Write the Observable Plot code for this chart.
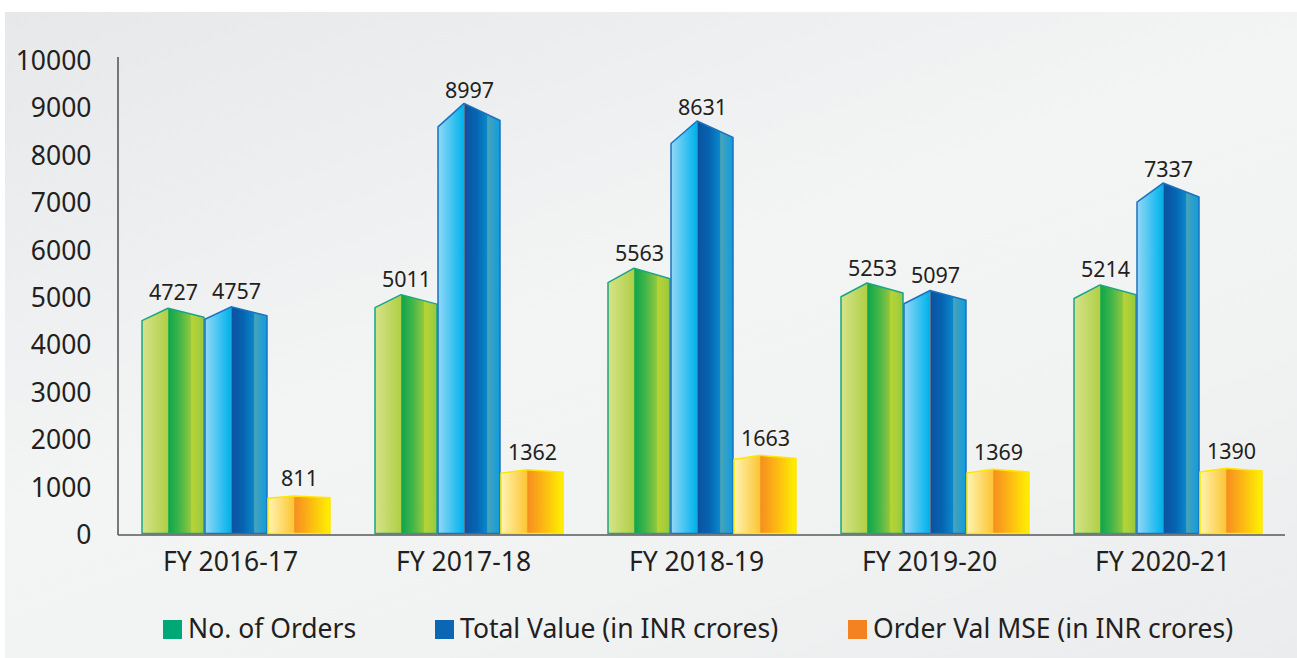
<!DOCTYPE html>
<html>
<head>
<meta charset="utf-8">
<script src="https://cdn.jsdelivr.net/npm/d3@7"></script>
<script src="https://cdn.jsdelivr.net/npm/@observablehq/plot@0.6"></script>
<style>
  html, body { margin: 0; padding: 0; background: #ffffff; }
  #page { position: relative; width: 1297px; height: 658px; overflow: hidden; font-family: "Noto Sans", sans-serif; color: #231f20; }
  #panel { position: absolute; left: 5px; top: 12px; right: 0; bottom: 0;
    background: linear-gradient(160deg, #e7e8ea 0%, #f3f4f4 45%, #f1f2f2 70%, #ebeced 100%); }
  #chart { position: absolute; left: 0; top: 0; }
  #legend { position: absolute; left: 0; top: 615px; width: 1297px; height: 40px; }
  .item { position: absolute; top: 0; display: flex; align-items: flex-start; font-size: 26.5px; line-height: 27px; white-space: nowrap; }
  .swatch { width: 19px; height: 19px; margin-top: 5px; margin-right: 6px; flex: none; }
</style>
</head>
<body>
<div id="page">
  <div id="panel"></div>
  <div id="chart"></div>
  <div id="legend"></div>
</div>
<script>
// ---- data ----
const years = ["FY 2016-17", "FY 2017-18", "FY 2018-19", "FY 2019-20", "FY 2020-21"];
const seriesNames = ["No. of Orders", "Total Value (in INR crores)", "Order Val MSE (in INR crores)"];
const orders = [4727, 5011, 5563, 5253, 5214];
const totalValue = [4757, 8997, 8631, 5097, 7337];
const mseValue = [811, 1362, 1663, 1369, 1390];
const yTicks = [0, 1000, 2000, 3000, 4000, 5000, 6000, 7000, 8000, 9000, 10000];

// ---- styles ----
const legendColors = ["#00a878", "#0b66b3", "#f58220"];
const gradientIds = ["gGreen", "gBlue", "gGold"];
const strokeColors = { gGreen: "#1aa584", gBlue: "#1b72c0", gGold: "#ffe600" };
const gradientStops = {
  gGreen: [[0, "#d6e38a"], [0.42, "#b0cf46"], [0.43, "#0ea64b"], [0.6, "#3fb549"], [0.78, "#8ec63f"], [0.8, "#b6d334"], [0.9, "#aacf3b"], [1, "#94c83e"]],
  gBlue: [[0, "#93d8f7"], [0.41, "#00b3ec"], [0.42, "#808a96"], [0.44, "#0b53a2"], [0.62, "#0664b1"], [0.79, "#0a88cc"], [0.8, "#4aa3b6"], [0.9, "#2b9fcc"], [1, "#0d9de0"]],
  gGold: [[0, "#fff4b2"], [0.42, "#fcc534"], [0.43, "#f68e1f"], [0.65, "#fbb216"], [1, "#fff100"]]
};

const seriesValues = [orders, totalValue, mseValue];
const data = years.flatMap((yr, i) => seriesNames.map((s, j) => ({ year: yr, series: s, value: seriesValues[j][i] })));

const chart = Plot.plot({
  width: 1297,
  height: 590,
  marginLeft: 118,
  marginRight: 12,
  marginTop: 61,
  marginBottom: 55,
  style: { background: "transparent", fontFamily: "Noto Sans, sans-serif", fontSize: "26.5px", color: "#231f20", overflow: "visible" },
  fx: { domain: years, paddingInner: 0.185, paddingOuter: 0.094, label: null },
  x: { domain: seriesNames, padding: 0.01, axis: null },
  y: { domain: [0, 10000], label: null },
  color: { domain: seriesNames, range: gradientIds.map(id => `url(#${id})`) },
  marks: [
    // the y axis sits in the first facet, so its padding is measured from the first band's left edge
    Plot.axisY({ ticks: yTicks, tickFormat: "d", tickSize: 0, tickPadding: 50, label: null, fill: "#231f20" }),
    Plot.axisFx({ anchor: "bottom", tickSize: 0, tickPadding: 17, label: null, dx: -6, fill: "#231f20" }),
    Plot.barY(data, { fx: "year", x: "series", y: "value", fill: "series", className: "bars3d" }),
    Plot.text(data, { fx: "year", x: "series", y: "value", text: d => String(d.value), dy: -11, lineAnchor: "bottom", fontSize: 21.5, fill: "#231f20" })
  ]
});

const ns = "http://www.w3.org/2000/svg";
const svg = chart;
// gradients
const defs = document.createElementNS(ns, "defs");
for (const id of gradientIds) {
  const lg = document.createElementNS(ns, "linearGradient");
  lg.setAttribute("id", id);
  lg.setAttribute("x1", "0"); lg.setAttribute("x2", "1"); lg.setAttribute("y1", "0"); lg.setAttribute("y2", "0");
  for (const [o, c] of gradientStops[id]) {
    const st = document.createElementNS(ns, "stop");
    st.setAttribute("offset", o);
    st.setAttribute("stop-color", c);
    lg.appendChild(st);
  }
  defs.appendChild(lg);
}
svg.insertBefore(defs, svg.firstChild);

// turn bar rects into prism-topped shapes (geometry taken from Plot's rects)
svg.querySelectorAll(".bars3d rect").forEach(r => {
  const x = +r.getAttribute("x"), y = +r.getAttribute("y");
  const w = +r.getAttribute("width"), h = +r.getAttribute("height");
  const fill = r.getAttribute("fill");
  const id = (fill.match(/#(\w+)/) || [])[1];
  const ya = y - 0.012 * h, xa = x + 0.42 * w;
  const yl = ya + 0.055 * h, yr = ya + 0.04 * h;
  const yb = y + h - 1.5;
  const p = document.createElementNS(ns, "path");
  p.setAttribute("d", `M${x},${yb}L${x},${yl}L${xa},${ya}L${x + w},${yr}L${x + w},${yb}Z`);
  p.setAttribute("fill", fill);
  p.setAttribute("stroke", strokeColors[id] || "none");
  p.setAttribute("stroke-width", "1.5");
  p.setAttribute("stroke-linejoin", "round");
  r.replaceWith(p);
});

// axis lines from Plot's scales
const ys = chart.scale("y").range, fxs = chart.scale("fx").range;
const axisG = document.createElementNS(ns, "g");
axisG.setAttribute("stroke", "#58595b");
axisG.setAttribute("stroke-width", "1.6");
const l1 = document.createElementNS(ns, "line");
l1.setAttribute("x1", fxs[0]); l1.setAttribute("x2", fxs[0]);
l1.setAttribute("y1", Math.min(...ys) - 4); l1.setAttribute("y2", Math.max(...ys));
const l2 = document.createElementNS(ns, "line");
l2.setAttribute("x1", fxs[0]); l2.setAttribute("x2", fxs[1]);
l2.setAttribute("y1", Math.max(...ys)); l2.setAttribute("y2", Math.max(...ys));
axisG.appendChild(l1); axisG.appendChild(l2);
svg.appendChild(axisG);

document.getElementById("chart").appendChild(chart);

// legend
const legendLeft = [163, 435, 848];
const legend = document.getElementById("legend");
seriesNames.forEach((s, i) => {
  const item = document.createElement("div");
  item.className = "item";
  item.style.left = legendLeft[i] + "px";
  const sw = document.createElement("span");
  sw.className = "swatch";
  sw.style.background = legendColors[i];
  const t = document.createElement("span");
  t.textContent = s;
  item.appendChild(sw); item.appendChild(t);
  legend.appendChild(item);
});
</script>
</body>
</html>
